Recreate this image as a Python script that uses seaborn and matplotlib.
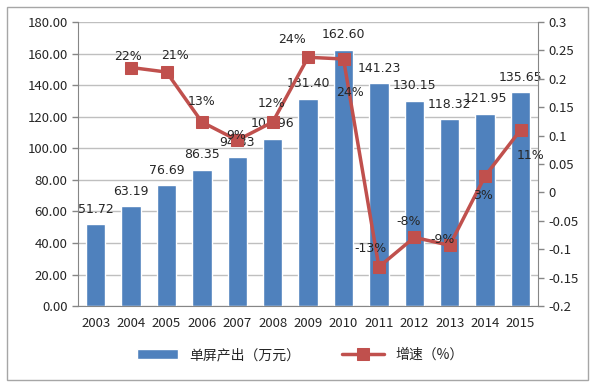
import numpy as np
import pandas as pd
import matplotlib.pyplot as plt
import seaborn as sns
from matplotlib.patches import Rectangle
from matplotlib.ticker import FixedLocator, FormatStrFormatter

# ---------------- data ----------------
years = ["2003", "2004", "2005", "2006", "2007", "2008", "2009",
         "2010", "2011", "2012", "2013", "2014", "2015"]
output = [51.72, 63.19, 76.69, 86.35, 94.33, 105.96, 131.40,
          162.60, 141.23, 130.15, 118.32, 121.95, 135.65]
growth_years = years[1:]
growth = [0.22, 0.212, 0.124, 0.092, 0.124, 0.238, 0.235,
          -0.131, -0.079, -0.093, 0.029, 0.11]
growth_labels = ["22%", "21%", "13%", "9%", "12%", "24%", "24%",
                 "-13%", "-8%", "-9%", "3%", "11%"]

bar_label = "单屏产出（万元）"
line_label = "增速（%）"

df_bar = pd.DataFrame({"year": years, "output": output})
df_line = pd.DataFrame({"year": growth_years, "growth": growth})

sns.set_style("white")
plt.rcParams["font.family"] = ["Noto Sans CJK SC", "DejaVu Sans"]

bar_color = "#4F81BD"
line_color = "#C0504D"
grid_color = "#BFBFBF"
axis_color = "#868686"

fig = plt.figure(figsize=(6, 3.87), dpi=100)
ax = fig.add_axes([0.13, 0.209, 0.767, 0.734])

sns.barplot(data=df_bar, x="year", y="output", color=bar_color,
            width=0.55, saturation=1, ax=ax, label=bar_label, zorder=2)
ax.set_ylim(0, 180)
ax.set_yticks(np.arange(0, 181, 20))
ax.yaxis.set_major_formatter(FormatStrFormatter("%.2f"))
ax.set_xlim(-0.5, len(years) - 0.5)
ax.set_xlabel("")
ax.set_ylabel("")
ax.grid(axis="y", color=grid_color, linewidth=1, zorder=0)
ax.set_axisbelow(True)

# bar value labels, centred above each bar
for i, v in enumerate(output):
    ax.annotate(f"{v:.2f}", (i, v), xytext=(0, 15), textcoords="offset pixels",
                ha="center", va="center", fontsize=9, color="#262626",
                family=["DejaVu Sans"], zorder=6)

ax2 = ax.twinx()
sns.lineplot(data=df_line, x="year", y="growth", color=line_color,
             marker="s", markersize=8, markeredgecolor=line_color,
             linewidth=2.5, ax=ax2, label=line_label, zorder=5)
ax2.set_ylim(-0.2, 0.3)
ax2.set_yticks([0.3, 0.25, 0.2, 0.15, 0.1, 0.05, 0, -0.05, -0.1, -0.15, -0.2])
ax2.set_yticklabels(["0.3", "0.25", "0.2", "0.15", "0.1", "0.05", "0",
                     "-0.05", "-0.1", "-0.15", "-0.2"])
ax2.set_ylabel("")
ax2.set_xlabel("")
ax.set_xlim(-0.5, len(years) - 0.5)

# growth labels (pixel offsets from each point)
line_offsets = [(-3, 11), (9, 17), (0, 21), (-1, 5), (-1, 19), (-16, 18),
                (6, -34), (-8, 18), (-6, 16), (-7, 6), (-2, -19), (10, -25)]
for i, (v, lab, off) in enumerate(zip(growth, growth_labels, line_offsets)):
    ax2.annotate(lab, (i + 1, v), xytext=off, textcoords="offset pixels",
                 ha="center", va="center", fontsize=9, color="#262626",
                 family=["DejaVu Sans"], zorder=7)

for a in (ax, ax2):
    for s in a.spines.values():
        s.set_visible(False)
    a.tick_params(axis="both", labelsize=9.5, colors="#262626", length=4,
                  width=1)
    a.tick_params(axis="y", color=axis_color)
ax.spines["left"].set_visible(True)
ax.spines["left"].set_color(axis_color)
ax.spines["bottom"].set_visible(True)
ax.spines["bottom"].set_color(axis_color)
ax2.spines["right"].set_visible(True)
ax2.spines["right"].set_color(axis_color)

# category ticks between bars
ax.tick_params(axis="x", length=0, pad=8)
ax.xaxis.set_minor_locator(FixedLocator(np.arange(-0.5, len(years), 1)))
ax.tick_params(axis="x", which="minor", length=5, color=axis_color, width=1)
ax2.tick_params(axis="x", which="both", length=0)

# legend
h1, l1 = ax.get_legend_handles_labels()
h2, l2 = ax2.get_legend_handles_labels()
if ax2.get_legend():
    ax2.get_legend().remove()
if ax.get_legend():
    ax.get_legend().remove()
fig.legend(h1 + h2, l1 + l2, loc="center", bbox_to_anchor=(0.5, 0.083),
           ncol=2, frameon=False, fontsize=10, handlelength=3,
           columnspacing=3)

# outer chart border
fig.patches.append(Rectangle((0.012, 0.018), 0.968, 0.965,
                             transform=fig.transFigure, fill=False,
                             edgecolor="#A6A6A6", linewidth=1))

fig.savefig("out.png", dpi=100)
